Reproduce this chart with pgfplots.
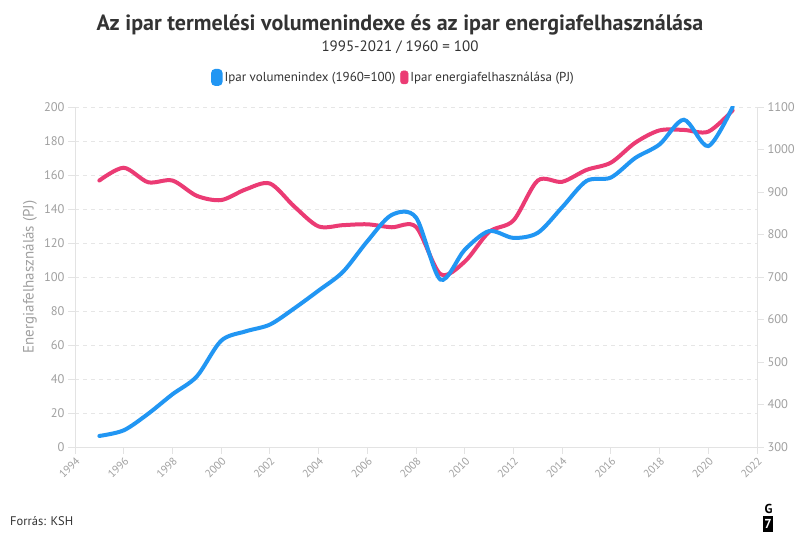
\documentclass[border=0pt]{standalone}
\usepackage{fontspec}
\setmainfont{PT Sans}
\usepackage{pgfplots}
\pgfplotsset{compat=1.18}
\definecolor{cblue}{HTML}{2196F3}
\definecolor{cpink}{HTML}{EB3B74}
\definecolor{tickgray}{HTML}{A0A0A0}
\definecolor{axgray}{HTML}{E3E3E3}
\definecolor{gridgray}{HTML}{E6E6E6}
\definecolor{titlecol}{HTML}{333333}

\pgfplotstableread{
year vol
1995 6.5
1996 9.8
1997 19.5
1998 31
1999 41.5
2000 62.5
2001 68
2002 72
2003 81.5
2004 92
2005 103
2006 121
2007 136.5
2008 135
2009 98.5
2010 116
2011 127
2012 123
2013 126
2014 141
2015 156.5
2016 158.5
2017 170
2018 178
2019 192.5
2020 177
2021 200
}\volumen

\pgfplotstableread{
year pj
1995 927
1996 957
1997 923
1998 927
1999 891
2000 881
2001 906
2002 920
2003 866
2004 819
2005 822
2006 824
2007 817
2008 818
2009 707
2010 736
2011 806
2012 833
2013 927
2014 924
2015 952
2016 969
2017 1016
2018 1045
2019 1046
2020 1042
2021 1092
}\energia

\begin{document}
\begin{tikzpicture}[x=1pt,y=1pt]
\path[fill=white] (0,0) rectangle (800,553);
\pgfplotsset{common/.style={scale only axis, width=682pt, height=340pt,
  at={(75pt,106pt)}, anchor=south west, xmin=1994, xmax=2022,
  /pgf/number format/assume math mode=true, /pgf/number format/1000 sep={}}}

% grid
\begin{axis}[common, ymin=0, ymax=200, ytick={0,20,...,200}, xtick=\empty,
  yticklabels={}, ymajorgrids,
  major grid style={gridgray, dash pattern=on 4pt off 4pt, line width=0.8pt},
  axis line style={draw=none}, major tick length=0pt]
\end{axis}

% energy (right axis)
\begin{axis}[common, ymin=300, ymax=1100, axis y line*=right, axis x line*=bottom,
  ytick={300,400,...,1100}, xtick={1994,1996,...,2022},
  axis line style={axgray, line width=0.8pt, -},
  tick style={axgray, line width=0.8pt}, major tick length=7pt, tick align=outside,
  yticklabel style={font=\fontsize{12.5}{12.5}\selectfont, text=tickgray},
  xticklabel style={font=\fontsize{11}{11}\selectfont, text=tickgray, rotate=45, anchor=north east, inner sep=1.5pt}]
\addplot[cpink, line width=4pt, smooth, line cap=round] table[x=year, y=pj] {\energia};
\end{axis}

% volume (left axis)
\begin{axis}[common, ymin=0, ymax=200, axis y line*=left, axis x line=none,
  ytick={0,20,...,200},
  axis line style={axgray, line width=0.8pt, -},
  tick style={axgray, line width=0.8pt}, major tick length=7pt, tick align=outside,
  yticklabel style={font=\fontsize{12.5}{12.5}\selectfont, text=tickgray},
  ylabel={Energiafelhasználás (PJ)},
  ylabel style={at={(axis description cs:-0.066,0.5)}, anchor=center,
    font=\fontsize{15}{15}\selectfont, text=tickgray},
  legend style={at={(axis description cs:0.467,1.087)}, anchor=center, draw=none, fill=none,
    legend columns=2, font=\fontsize{13}{13}\selectfont, text=titlecol,
    /tikz/every even column/.append style={column sep=3pt}},
  legend cell align=left]
\addplot[cblue, line width=4pt, smooth, line cap=round,
  legend image code/.code={\fill[cblue, rounded corners=2.5pt] (0pt,-6.5pt) rectangle (7.5pt,6.5pt);}]
  table[x=year, y=vol] {\volumen};
\addlegendentry{Ipar volumenindex (1960=100)}
\addlegendimage{legend image code/.code={\fill[cpink, rounded corners=2.5pt] (0pt,-6.5pt) rectangle (7.5pt,6.5pt);}}
\addlegendentry{Ipar energiafelhasználása (PJ)}
\end{axis}

\node[anchor=base, font=\fontsize{22}{22}\selectfont\bfseries, text=titlecol] at (400,522)
  {Az ipar termelési volumenindexe és az ipar energiafelhasználása};
\node[anchor=base, font=\fontsize{15}{15}\selectfont, text=titlecol] at (400,501.5)
  {1995-2021 / 1960 = 100};
\node[anchor=base west, inner sep=0pt, font=\fontsize{12.5}{12.5}\selectfont, text=titlecol] at (10,27)
  {Forrás: KSH};
\node[anchor=center, inner sep=0pt, font=\fontsize{13}{13}\selectfont\bfseries, text=black] at (768.5,44.5) {G};
\fill[black] (763,21) rectangle (773,37);
\node[anchor=center, inner sep=0pt, font=\fontsize{13}{13}\selectfont\bfseries, text=white] at (768,29) {7};
\end{tikzpicture}
\end{document}
